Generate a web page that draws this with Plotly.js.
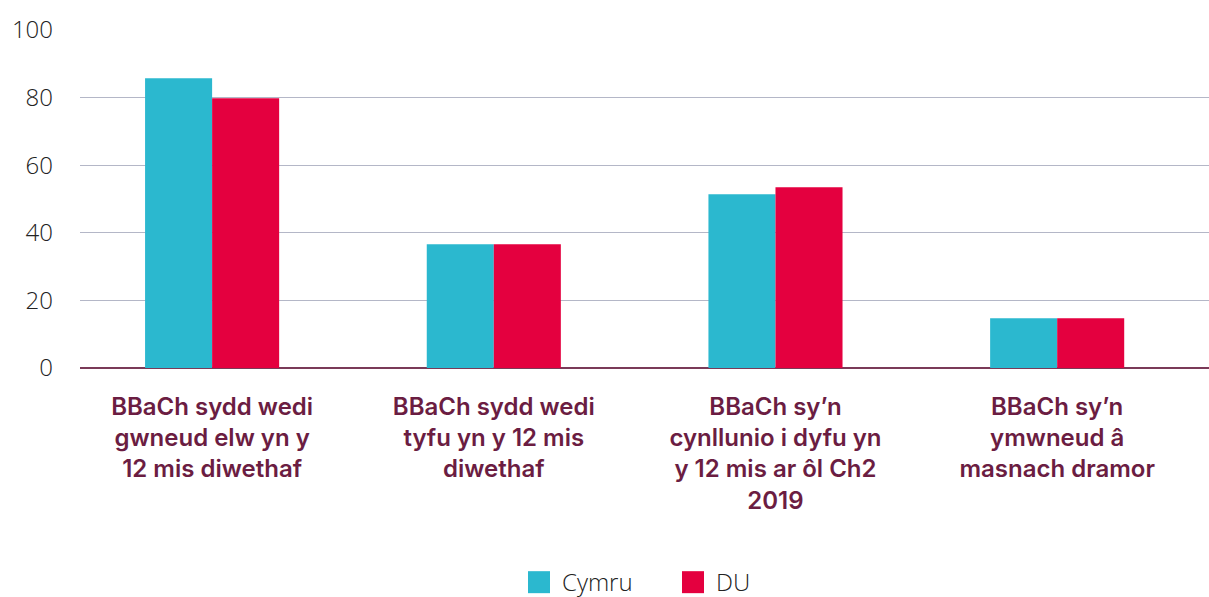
<!DOCTYPE html>
<html>
<head>
<meta charset="utf-8">
<script src="https://cdn.plot.ly/plotly-3.0.1.min.js"></script>
<style>html,body{margin:0;padding:0;background:#fff;}#chart{width:1209px;height:597px;}</style>
</head>
<body>
<div id="chart"></div>
<script>
const categories = [
  "BBaCh sydd wedi<br>gwneud elw yn y<br>12 mis diwethaf",
  "BBaCh sydd wedi<br>tyfu yn y 12 mis<br>diwethaf",
  "BBaCh sy’n<br>cynllunio i dyfu yn<br>y 12 mis ar ôl Ch2<br>2019",
  "BBaCh sy’n<br>ymwneud â<br>masnach dramor"
];
const seriesNames = ["Cymru", "DU"];
const cymru = [85.7, 36.6, 51.4, 14.7];
const du = [79.8, 36.6, 53.5, 14.7];
const yTicks = [0, 20, 40, 60, 80, 100];
const colors = ["#2bb8cf", "#e4003f"];

const traces = [cymru, du].map((vals, i) => ({
  type: "bar",
  name: seriesNames[i],
  x: categories.map((_, k) => k),
  y: vals,
  marker: {color: colors[i]},
  showlegend: false,
  hoverinfo: "y"
}));

const legendShapes = [];
const legendAnns = [];
const legendX = [528, 682];
seriesNames.forEach((n, i) => {
  legendShapes.push({type: "rect", xref: "paper", yref: "paper",
    x0: (legendX[i] - 80) / 1129, x1: (legendX[i] + 22 - 80) / 1129,
    y0: -(571 - 367.7) / 338.2, y1: -(593 - 367.7) / 338.2,
    fillcolor: colors[i], line: {width: 0}});
  legendAnns.push({xref: "paper", yref: "paper", showarrow: false,
    x: (legendX[i] + 33 - 80) / 1129, xanchor: "left",
    y: -(581 - 367.7) / 338.2, yanchor: "middle", borderpad: 0,
    text: n, font: {family: "Open Sans", size: 24, color: "#222", weight: 300}});
});

const layout = {
  width: 1209, height: 597,
  margin: {l: 80, r: 0, t: 29.5, b: 229.3},
  paper_bgcolor: "#fff", plot_bgcolor: "#fff",
  barmode: "group", bargap: 0.524, bargroupgap: 0,
  xaxis: {
    range: [-0.469, 3.539],
    tickmode: "array",
    tickvals: categories.map((_, k) => k),
    ticktext: categories,
    ticks: "", showgrid: false, zeroline: false,
    showline: false,
    ticklabelstandoff: 22,
    tickfont: {family: "Inter", size: 24, color: "#6b1d42", weight: 600},
    fixedrange: true
  },
  yaxis: {
    range: [0, 100],
    tickmode: "array", tickvals: yTicks, ticktext: yTicks.map(String),
    showgrid: true, gridcolor: "#b4b7c7", gridwidth: 1.3,
    zeroline: true, zerolinecolor: "#7a3a58", zerolinewidth: 1.5,
    ticks: "", ticklabelstandoff: 26,
    tickfont: {family: "Open Sans", size: 24, color: "#222", weight: 300},
    fixedrange: true
  },
  shapes: legendShapes,
  annotations: legendAnns,
  font: {family: "Open Sans"}
};

Plotly.newPlot("chart", traces, layout, {displayModeBar: false, staticPlot: true});
</script>
</body>
</html>
